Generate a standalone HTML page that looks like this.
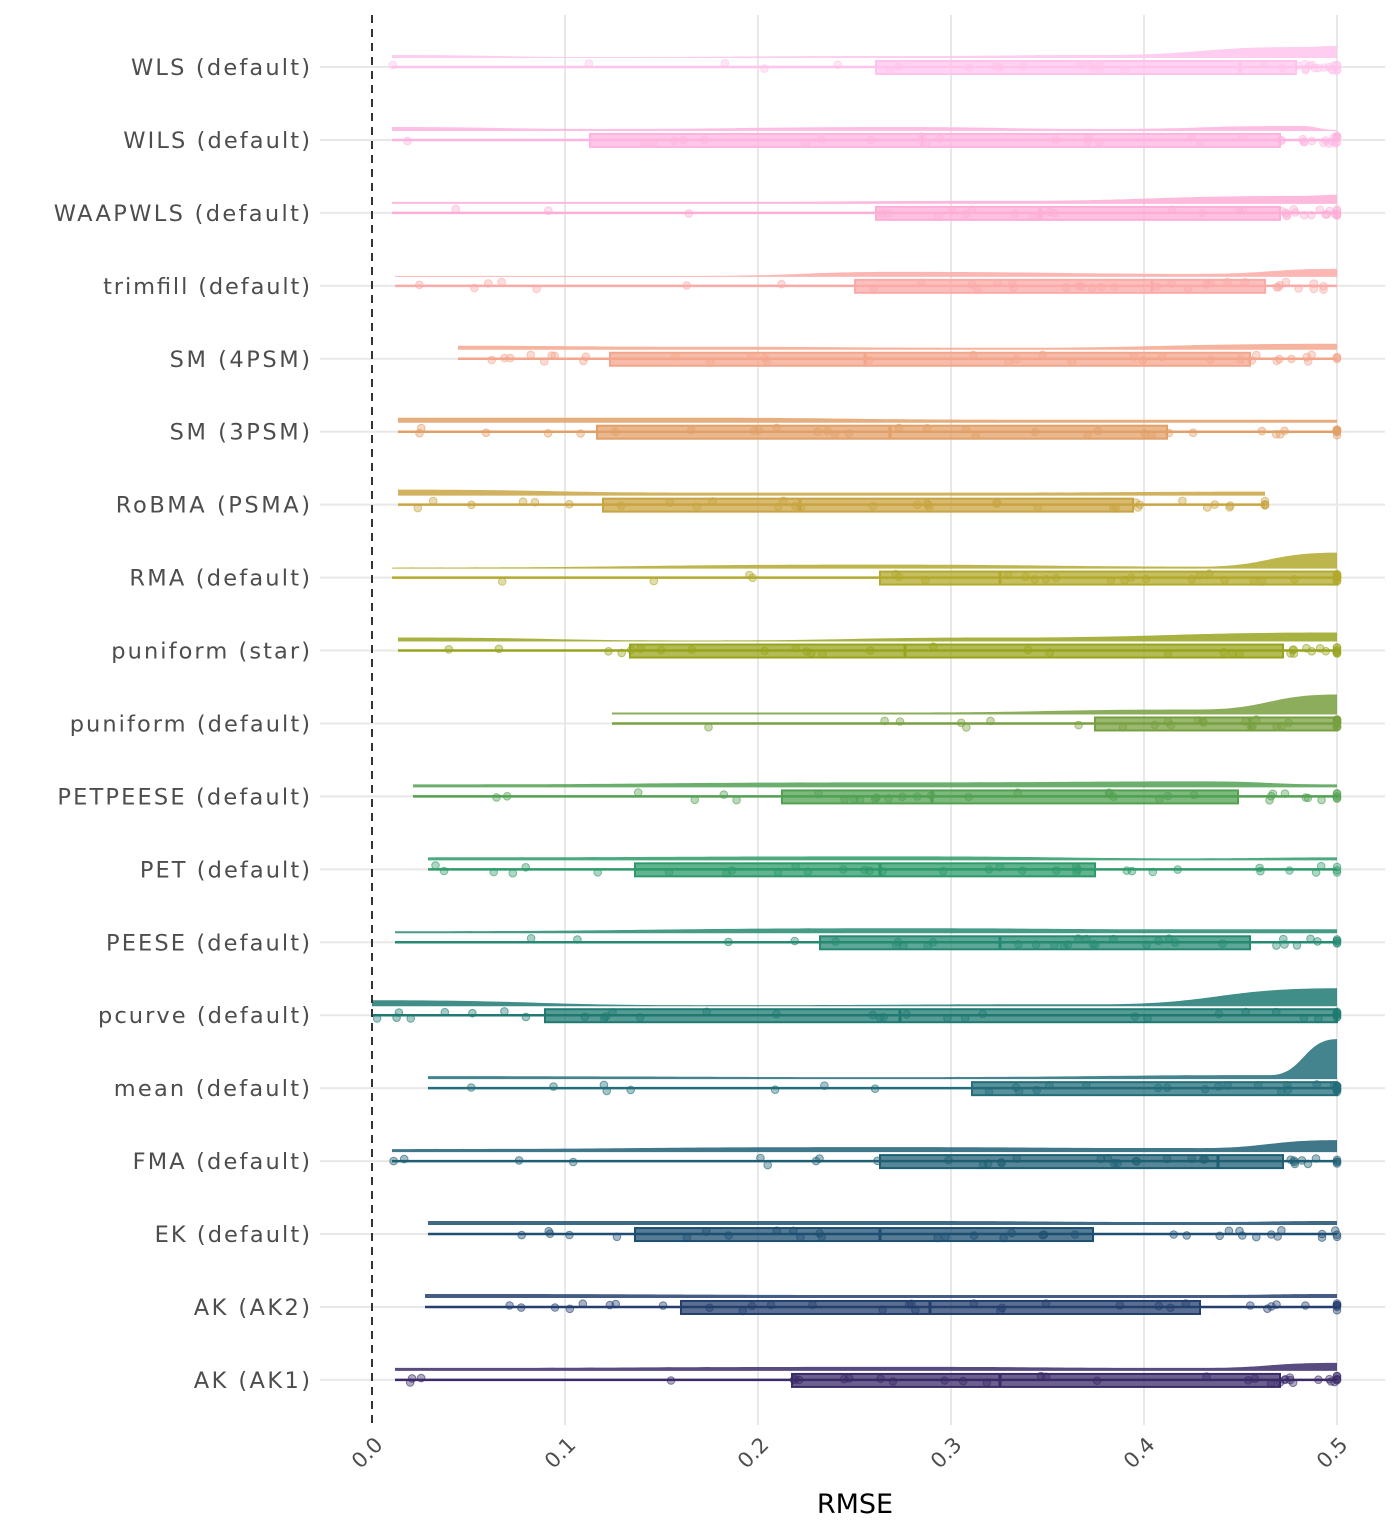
<!DOCTYPE html>
<html><head><meta charset="utf-8">
<style>
html,body{margin:0;padding:0;background:#fff;}
svg{display:block;font-family:"DejaVu Sans","Liberation Sans",sans-serif;}
</style></head>
<body>
<svg id="c" width="1400" height="1536" viewBox="0 0 1400 1536" xmlns="http://www.w3.org/2000/svg">
<g id="grid"></g>
<g id="rows"></g>
<line x1="372" y1="15" x2="372" y2="1425" stroke="#333" stroke-width="2" stroke-dasharray="8,6"/>
<g font-size="21" fill="#4d4d4d" text-anchor="end" class="tk">
<text transform="translate(384,1446) rotate(-45)">0.0</text>
<text transform="translate(577,1446) rotate(-45)">0.1</text>
<text transform="translate(770,1446) rotate(-45)">0.2</text>
<text transform="translate(963,1446) rotate(-45)">0.3</text>
<text transform="translate(1156,1446) rotate(-45)">0.4</text>
<text transform="translate(1349,1446) rotate(-45)">0.5</text>
</g>
<text x="855" y="1513" font-size="27" fill="#000" text-anchor="middle">RMSE</text>
</svg>
<script>
var NS="http://www.w3.org/2000/svg";
function el(p,t,a){var e=document.createElementNS(NS,t);for(var k in a)e.setAttribute(k,a[k]);p.appendChild(e);return e;}
var grid=document.getElementById('grid'),rows=document.getElementById('rows');
[565,758,951,1144,1337].forEach(function(x){el(grid,'line',{x1:x,y1:15,x2:x,y2:1425,stroke:'#e8e8e8','stroke-width':2});});
var R=[
["WLS (default)","#ffc4ec",392,876,1240,1296,1337,[[392,3],[600,1],[900,2],[1100,3],[1300,11],[1337,12]]],
["WILS (default)","#ffb4e0",392,590,922,1280,1337,[[392,4],[600,2],[900,4],[1100,2],[1300,5],[1337,1]]],
["WAAPWLS (default)","#fdaed6",392,876,1040,1280,1337,[[392,2],[700,2],[1000,3],[1300,8],[1337,9]]],
["trimfill (default)","#fbaaa8",395,855,1152,1265,1337,[[395,1],[700,1],[900,5],[1200,3],[1337,8]]],
["SM (4PSM)","#f4a68c",458,610,865,1250,1337,[[458,4],[700,3],[1000,2],[1337,6]]],
["SM (3PSM)","#e2a068",398,597,890,1167,1337,[[398,5],[700,5],[1000,3],[1337,3]]],
["RoBMA (PSMA)","#c9a442",398,603,800,1133,1265,[[398,6],[700,3],[1000,3],[1265,4]]],
["RMA (default)","#b2a92e",392,880,1000,1337,1337,[[392,1],[880,4],[1200,2],[1337,16]]],
["puniform (star)","#98a41e",398,630,905,1283,1337,[[398,4],[700,1],[1000,4],[1337,9]]],
["puniform (default)","#78a040",612,1095,1250,1337,1337,[[612,2],[900,2],[1200,5],[1337,20]]],
["PETPEESE (default)","#52a052",413,782,932,1238,1337,[[413,3],[900,5],[1200,6],[1337,3]]],
["PET (default)","#2e9a6a",428,635,880,1095,1337,[[428,3],[900,4],[1200,2],[1337,3]]],
["PEESE (default)","#268a72",395,820,1000,1250,1337,[[395,2],[900,5],[1200,4],[1337,4]]],
["pcurve (default)","#1f7a72",372,545,900,1337,1337,[[372,6],[700,1],[1100,2],[1337,18]]],
["mean (default)","#236e7a",428,972,1337,1337,1337,[[428,3],[900,2],[1270,4],[1337,40]]],
["FMA (default)","#1f5f74",392,880,1218,1283,1337,[[392,3],[880,5],[1200,4],[1337,12]]],
["EK (default)","#1e4f72",428,635,880,1093,1337,[[428,4],[900,4],[1200,3],[1337,4]]],
["AK (AK2)","#243f6e",425,681,930,1200,1337,[[425,4],[900,3],[1200,3],[1337,4]]],
["AK (AK1)","#3b2b68",395,792,1000,1280,1337,[[395,3],[900,4],[1200,3],[1337,8]]]
];
var seed=7;function rnd(){seed=(seed*16807)%2147483647;return seed/2147483647;}
R.forEach(function(r,i){
 var y=67+i*72.94;
 el(grid,'line',{x1:320,y1:y,x2:1385,y2:y,stroke:'#e8e8e8','stroke-width':2});
 var g=el(rows,'g',{});
 var t=el(g,'text',{x:310,y:y+8,'font-size':22.5,fill:'#4d4d4d','text-anchor':'end'});t.textContent=r[0];
 try{var w=t.getComputedTextLength();t.setAttribute('textLength',(w*1.17).toFixed(1));t.setAttribute('lengthAdjust','spacing');}catch(e){}
 var c=r[1],v=r[7],yb=y-9;
 var d="M"+v[0][0]+","+yb;
 for(var k=0;k<v.length;k++){
   if(k==0)d+=" L"+v[0][0]+","+(yb-v[0][1]);
   else{var xm=(v[k-1][0]+v[k][0])/2;d+=" C"+xm+","+(yb-v[k-1][1])+" "+xm+","+(yb-v[k][1])+" "+v[k][0]+","+(yb-v[k][1]);}
 }
 d+=" L"+v[v.length-1][0]+","+yb+" Z";
 el(g,'path',{d:d,fill:c,'fill-opacity':0.85,stroke:'none'});
 el(g,'line',{x1:r[2],y1:y,x2:r[6],y2:y,stroke:c,'stroke-width':2.5});
 if(r[5]>r[3])el(g,'rect',{x:r[3],y:y-6,width:r[5]-r[3],height:13,fill:c,'fill-opacity':0.75,stroke:c,'stroke-width':2});
 el(g,'line',{x1:r[4],y1:y-6,x2:r[4],y2:y+7,stroke:c,'stroke-width':3});
 for(var p=0;p<36;p++){
   var u=rnd(),x;
   if(u<0.18)x=r[2]+rnd()*(r[3]-r[2]);else if(u<0.75)x=r[3]+rnd()*(r[5]-r[3]);else x=r[5]+rnd()*(r[6]-r[5]);
   if(rnd()<0.1)x=r[6];
   el(g,'circle',{cx:x.toFixed(1),cy:(y+(rnd()-0.5)*8).toFixed(1),r:3.8,fill:c,'fill-opacity':0.4,stroke:c,'stroke-opacity':0.6});
 }
});
</script>
</body></html>
